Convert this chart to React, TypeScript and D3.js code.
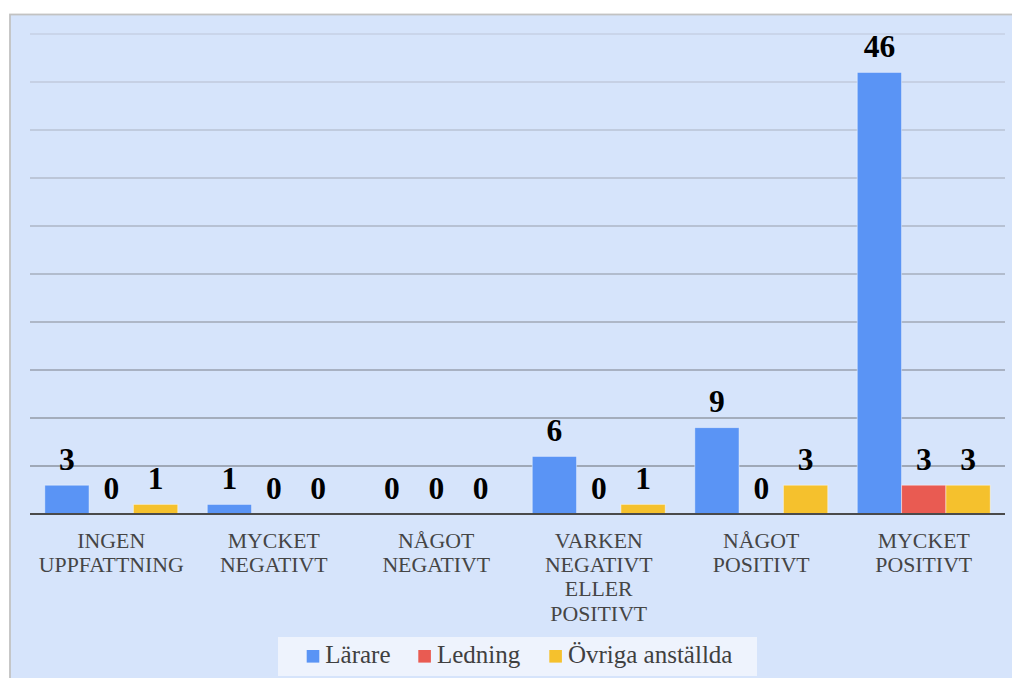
import React from "react";
import * as d3 from "d3";

// Survey answer categories (x axis), one group of bars per category
const categories: string[][] = [
  ["INGEN", "UPPFATTNING"],
  ["MYCKET", "NEGATIVT"],
  ["NÅGOT", "NEGATIVT"],
  ["VARKEN", "NEGATIVT", "ELLER", "POSITIVT"],
  ["NÅGOT", "POSITIVT"],
  ["MYCKET", "POSITIVT"],
];

const seriesNames = ["Lärare", "Ledning", "Övriga anställda"];
const lararValues = [3, 1, 0, 6, 9, 46];
const ledningValues = [0, 0, 0, 0, 0, 3];
const ovrigaValues = [1, 0, 0, 1, 3, 3];
const seriesColors = ["#5a94f5", "#e95b52", "#f5c12d"];
const gridTicks = [0, 5, 10, 15, 20, 25, 30, 35, 40, 45, 50];

const W = 1012;
const H = 678;
const plot = { left: 30, right: 1005, top: 34, bottom: 514 };
const serif = "'Liberation Serif', 'Times New Roman', serif";

export default function App() {
  const seriesValues = [lararValues, ledningValues, ovrigaValues];
  const catKeys = categories.map((c) => c.join(" "));

  const x0 = d3.scaleBand<string>().domain(catKeys).range([plot.left, plot.right]);
  const groupPad = 14.75;
  const x1 = d3
    .scaleBand<string>()
    .domain(seriesNames)
    .range([groupPad, x0.bandwidth() - groupPad]);
  const y = d3.scaleLinear().domain([0, 50]).range([plot.bottom, plot.top]);

  const gridColor = d3.interpolateRgb("#c6d1e4", "#868d98");

  const legendX = [306.7, 418.3, 549.3];

  return (
    <svg
      width={W}
      height={H}
      style={{ position: "absolute", left: 0, top: 0, display: "block" }}
    >
      <rect x={0} y={0} width={W} height={H} fill="#ffffff" />
      {/* chart panel */}
      <rect
        x={10}
        y={14.5}
        width={W + 10}
        height={H}
        fill="#d6e4fb"
        stroke="#c2c2c2"
        strokeWidth={1.8}
      />

      {/* horizontal gridlines, fading lighter towards the top */}
      {gridTicks
        .filter((t) => t > 0)
        .map((t) => (
          <line
            key={t}
            x1={plot.left}
            x2={plot.right}
            y1={y(t)}
            y2={y(t)}
            stroke={gridColor(1 - t / 50)}
            strokeWidth={1.4}
          />
        ))}

      {/* bars */}
      {catKeys.map((ck, ci) => (
        <g key={ck} transform={`translate(${x0(ck)},0)`}>
          {seriesNames.map((s, si) => {
            const v = seriesValues[si][ci];
            return (
              <rect
                key={s}
                x={x1(s)}
                y={y(v)}
                width={x1.bandwidth()}
                height={plot.bottom - y(v)}
                fill={seriesColors[si]}
                stroke="rgba(255,255,255,0.45)"
                strokeWidth={v > 0 ? 1 : 0}
              />
            );
          })}
        </g>
      ))}

      {/* baseline */}
      <line
        x1={plot.left}
        x2={plot.right}
        y1={plot.bottom}
        y2={plot.bottom}
        stroke="#4a4a4a"
        strokeWidth={2}
      />

      {/* value labels */}
      {catKeys.map((ck, ci) =>
        seriesNames.map((s, si) => {
          const v = seriesValues[si][ci];
          return (
            <text
              key={ck + s}
              x={(x0(ck) ?? 0) + (x1(s) ?? 0) + x1.bandwidth() / 2}
              y={y(v) - 15.5}
              textAnchor="middle"
              fontFamily={serif}
              fontWeight="bold"
              fontSize={31.5}
              fill="#000000"
            >
              {v}
            </text>
          );
        })
      )}

      {/* category labels */}
      {catKeys.map((ck, ci) => (
        <text
          key={ck}
          x={(x0(ck) ?? 0) + x0.bandwidth() / 2}
          y={547.7}
          textAnchor="middle"
          fontFamily={serif}
          fontSize={21.8}
          fill="#454545"
        >
          {categories[ci].map((line, li) => (
            <tspan key={li} x={(x0(ck) ?? 0) + x0.bandwidth() / 2} dy={li === 0 ? 0 : 24.3}>
              {line}
            </tspan>
          ))}
        </text>
      ))}

      {/* legend */}
      <rect x={278} y={637} width={479} height={39} fill="#eef3fd" />
      {seriesNames.map((s, si) => (
        <g key={s}>
          <rect
            x={legendX[si]}
            y={650}
            width={12.6}
            height={12.6}
            fill={seriesColors[si]}
          />
          <text
            x={legendX[si] + 18.6}
            y={663.3}
            fontFamily={serif}
            fontSize={25}
            fill="#404040"
          >
            {s}
          </text>
        </g>
      ))}
    </svg>
  );
}
